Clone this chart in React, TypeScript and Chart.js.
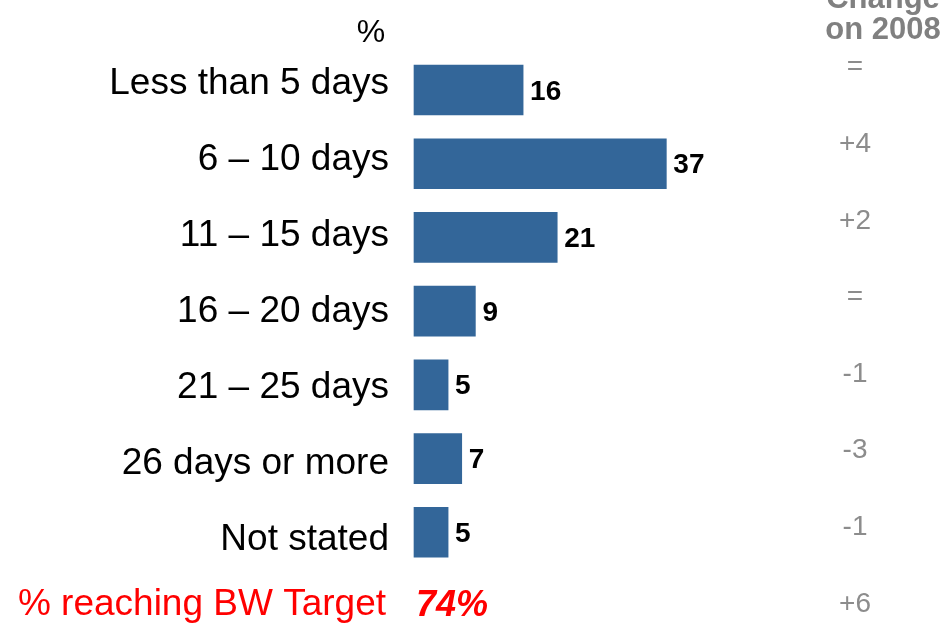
import React, { useEffect, useRef } from "react";
import { Chart, registerables } from "chart.js";

Chart.register(...registerables);

const categories = [
  "Less than 5 days",
  "6 – 10 days",
  "11 – 15 days",
  "16 – 20 days",
  "21 – 25 days",
  "26 days or more",
  "Not stated",
  "% reaching BW Target",
];
const values: (number | null)[] = [16, 37, 21, 9, 5, 7, 5, null];
const changes = ["=", "+4", "+2", "=", "-1", "-3", "-1", "+6"];
const targetValue = "74%";
const headerLines = ["Change", "on 2008"];
const unitLabel = "%";

const FONT = '"Liberation Sans", Arial, sans-serif';
const BAR_COLOR = "#336699";

const overlay = {
  id: "overlay",
  afterDatasetsDraw(chart: any) {
    const ctx = chart.ctx;
    const x = chart.scales.x;
    const y = chart.scales.y;
    const top = chart.chartArea.top;
    ctx.save();
    // category labels
    categories.forEach((c, i) => {
      const isTarget = i === categories.length - 1;
      const base = isTarget ? y.getPixelForValue(i) + 9 : top + 4 + i * 76;
      ctx.font = `37px ${FONT}`;
      ctx.fillStyle = isTarget ? "#ff0000" : "#000000";
      ctx.textAlign = "right";
      ctx.textBaseline = "alphabetic";
      ctx.fillText(c, isTarget ? 386 : 389, base);
    });
    // value labels
    const meta = chart.getDatasetMeta(0);
    values.forEach((v, i) => {
      if (v == null) return;
      const el = meta.data[i];
      ctx.font = `bold 28px ${FONT}`;
      ctx.fillStyle = "#000000";
      ctx.textAlign = "left";
      ctx.textBaseline = "alphabetic";
      ctx.fillText(String(v), x.getPixelForValue(v) + 7, el.y + 9.5);
    });
    // target value
    ctx.font = `italic bold 36px ${FONT}`;
    ctx.fillStyle = "#ff0000";
    ctx.textAlign = "left";
    ctx.fillText(targetValue, x.left + 2, y.getPixelForValue(categories.length - 1) + 10);
    // changes
    changes.forEach((c, i) => {
      ctx.font = `28px ${FONT}`;
      ctx.fillStyle = "#8c8c8c";
      ctx.textAlign = "center";
      ctx.fillText(c, 855, top - 14.6 + i * 76.6);
    });
    // header
    ctx.font = `bold 31px ${FONT}`;
    ctx.fillStyle = "#808080";
    ctx.textAlign = "center";
    ctx.fillText(headerLines[0], 883, 8);
    ctx.fillText(headerLines[1], 883, 39);
    // unit
    ctx.font = `32px ${FONT}`;
    ctx.fillStyle = "#000000";
    ctx.textAlign = "center";
    ctx.fillText(unitLabel, 371, 42);
    ctx.restore();
  },
};

export default function App() {
  const ref = useRef<HTMLCanvasElement | null>(null);
  useEffect(() => {
    if (!ref.current) return;
    const chart = new Chart(ref.current, {
      type: "bar",
      data: {
        labels: categories,
        datasets: [
          {
            data: values as any,
            backgroundColor: BAR_COLOR,
            borderWidth: 0,
            barThickness: 50,
            clip: false as any,
          },
        ],
      },
      options: {
        indexAxis: "y",
        animation: false,
        responsive: false,
        maintainAspectRatio: false,
        layout: { padding: { left: 414, right: 124.8, top: 90, bottom: 17 } },
        plugins: { legend: { display: false }, tooltip: { enabled: false } },
        scales: {
          x: { display: false, min: 0, max: 60 },
          y: { display: false, offset: false, grid: { offset: false } },
        },
      },
      plugins: [overlay],
    });
    return () => chart.destroy();
  }, []);
  return (
    <div style={{ position: "fixed", left: 0, top: 0, width: 948, height: 623, background: "#fff" }}>
      <canvas ref={ref} width={948} height={623} style={{ width: 948, height: 623, display: "block" }} />
    </div>
  );
}
